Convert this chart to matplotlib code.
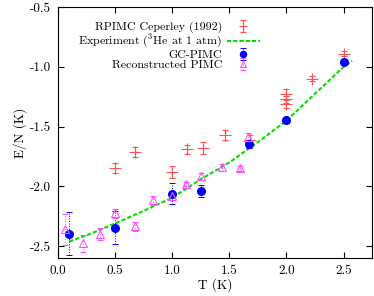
import numpy as np
import matplotlib
matplotlib.use("Agg")
import matplotlib.pyplot as plt

plt.rcParams['font.family'] = 'serif'
plt.rcParams['font.serif'] = ['cmr10', 'DejaVu Serif']
plt.rcParams['mathtext.fontset'] = 'cm'
plt.rcParams['axes.unicode_minus'] = False
plt.rcParams['axes.formatter.use_mathtext'] = True

# RPIMC Ceperley (1992)
rp_T = [0.5, 0.67, 1.0, 1.13, 1.27, 1.46, 1.68, 2.0, 2.0, 2.0, 2.22, 2.5]
rp_E = [-1.845, -1.71, -1.88, -1.69, -1.68, -1.57, -1.61, -1.225, -1.27, -1.31, -1.10, -0.89]
rp_err = [0.04, 0.04, 0.05, 0.04, 0.05, 0.04, 0.04, 0.04, 0.03, 0.03, 0.02, 0.02]

# Experiment (3He at 1 atm)
ex_T = [0.1, 0.25, 0.5, 0.75, 1.0, 1.25, 1.5, 1.75, 2.0, 2.25, 2.5, 2.575]
ex_E = [-2.46, -2.41, -2.31, -2.205, -2.095, -1.94, -1.80, -1.63, -1.45, -1.225, -1.00, -0.95]

# GC-PIMC
gc_T = [0.1, 0.5, 1.0, 1.25, 1.67, 2.0, 2.5]
gc_E = [-2.397, -2.345, -2.06, -2.035, -1.645, -1.447, -0.958]
gc_err = [0.18, 0.14, 0.09, 0.05, 0.03, 0.02, 0.02]

# Reconstructed PIMC
rc_T = [0.06, 0.216, 0.367, 0.5, 0.676, 0.828, 1.0, 1.125, 1.25, 1.437, 1.59, 1.665]
rc_E = [-2.36, -2.475, -2.40, -2.225, -2.335, -2.117, -2.08, -1.98, -1.915, -1.84, -1.85, -1.586]
rc_err = [0.13, 0.07, 0.05, 0.04, 0.04, 0.04, 0.03, 0.02, 0.03, 0.03, 0.02, 0.03]

fig = plt.figure(figsize=(3.74, 2.96), dpi=100)
ax = fig.add_axes([0.155, 0.128, 0.84, 0.848])

red = '#ff5050'
green = '#00e000'
blue = '#0000ff'
pink = '#ff50ff'

h_rp = ax.errorbar(rp_T, rp_E, yerr=rp_err, fmt='+', color=red, ms=8, mew=0.8,
                   elinewidth=0.8, capsize=2.5, capthick=0.8)
h_ex, = ax.plot(ex_T, ex_E, color=green, lw=1.5, ls=(0, (2, 1)))
h_gc = ax.errorbar(gc_T, gc_E, yerr=gc_err, fmt='o', color=blue, ms=5.5,
                   elinewidth=0.7, capsize=2, capthick=0.7)
h_gc[2][0].set_linestyle(':')
h_rc = ax.errorbar(rc_T, rc_E, yerr=rc_err, fmt='^', color=pink, mfc='none', ms=6,
                   mew=0.8, elinewidth=0.7, capsize=2, capthick=0.7)
h_rc[2][0].set_linestyle(':')

ax.set_xlim(0, 2.75)
ax.set_ylim(-2.6, -0.5)
ax.set_xticks([0.0, 0.5, 1.0, 1.5, 2.0, 2.5])
ax.set_xticklabels(['0.0', '0.5', '1.0', '1.5', '2.0', '2.5'])
ax.set_yticks([-2.5, -2.0, -1.5, -1.0, -0.5])
ax.set_yticklabels(['-2.5', '-2.0', '-1.5', '-1.0', '-0.5'])
ax.tick_params(direction='in', top=True, right=True, labelsize=9.5, length=4, pad=5)
ax.set_xlabel('T (K)', fontsize=9.5, labelpad=1)
ax.set_ylabel('E/N (K)', fontsize=9.5, labelpad=2)

leg = ax.legend([h_rp, h_ex, h_gc, h_rc],
                ['RPIMC Ceperley (1992)', 'Experiment ($^3$He at 1 atm)',
                 'GC-PIMC', 'Reconstructed PIMC'],
                loc='upper right', bbox_to_anchor=(0.672, 0.98), markerfirst=False,
                frameon=False, fontsize=8.6, handlelength=2.7, handleheight=0.5,
                labelspacing=0.0, handletextpad=0.45, borderpad=0.3,
                markerscale=0.8)
for vp in leg._legend_handle_box.get_children():
    vp.align = 'right'

fig.savefig('out.png', dpi=100)
